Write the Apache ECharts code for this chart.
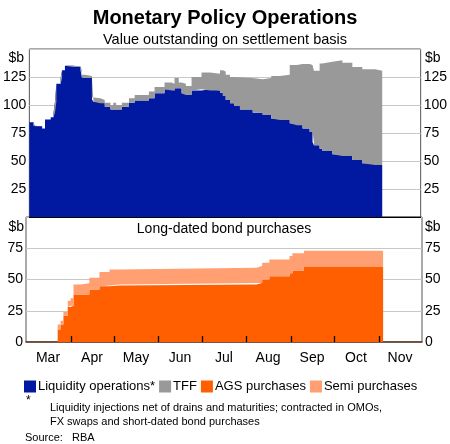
<!DOCTYPE html>
<html>
<head>
<meta charset="utf-8">
<script src="https://cdn.jsdelivr.net/npm/echarts@6/dist/echarts.min.js"></script>
<style>
  html, body { margin: 0; padding: 0; background: #fff; }
  #chart { width: 450px; height: 444px; }
</style>
</head>
<body>
<div id="chart"></div>
<script>
// top panel: value outstanding, $b
const topDates = ['2020-03-01', '2020-03-04', '2020-03-05', '2020-03-10', '2020-03-12', '2020-03-16',
  '2020-03-18', '2020-03-19', '2020-03-20', '2020-03-23', '2020-03-24', '2020-03-26', '2020-04-01',
  '2020-04-06', '2020-04-07', '2020-04-09', '2020-04-14', '2020-04-15', '2020-04-20', '2020-04-23',
  '2020-04-27', '2020-04-29', '2020-05-01', '2020-05-05', '2020-05-10', '2020-05-14', '2020-05-24',
  '2020-05-28', '2020-06-04', '2020-06-09', '2020-06-11', '2020-06-14', '2020-06-16', '2020-06-19',
  '2020-06-23', '2020-06-30', '2020-07-06', '2020-07-13', '2020-07-15', '2020-07-17', '2020-07-20',
  '2020-07-23', '2020-07-27', '2020-08-05', '2020-08-12', '2020-08-18', '2020-08-24', '2020-08-31',
  '2020-09-05', '2020-09-09', '2020-09-14', '2020-09-16', '2020-09-17', '2020-09-21', '2020-09-23',
  '2020-09-30', '2020-10-07', '2020-10-14', '2020-10-21', '2020-10-30', '2020-11-04'];
const liquidity = [84.5, 81.5, 81, 79, 87, 89, 93, 103, 119, 124, 131, 135, 134,
  131, 124, 124, 105, 103, 101.5, 98.5, 96, 96, 96, 98.5, 102, 104, 106,
  110.5, 114, 113, 115, 115, 110.5, 109, 113, 114, 113, 111, 108, 104.5, 101.5,
  99, 96, 93, 91, 88, 86.6, 83.6, 82, 79, 76, 67, 64, 61, 59,
  56, 54.5, 51, 48, 46.5, 46.5];
const tff = [0, 0, 0, 0, 0, 0, 0, 0, 0, 0, 0, 0, 0.5,
  2, 3, 2, 2, 3, 3, 3.5, 4, 6, 4, 3.5, 4, 5, 6,
  5.5, 6, 6, 9, 5, 8.5, 8, 12, 15, 15, 20, 22, 22.5, 23.5,
  25.7, 28, 30, 33, 38, 40.4, 52.1, 54.6, 57.6, 59.7, 67, 66.6, 76, 79.7,
  84, 83.3, 83, 84, 84.1, 84.1];

// bottom panel: long-dated bond purchases, $b
const bondDates = ['2020-03-01', '2020-03-23', '2020-03-25', '2020-03-27', '2020-03-30', '2020-04-01',
  '2020-04-03', '2020-04-08', '2020-04-14', '2020-04-21', '2020-04-28', '2020-05-05', '2020-08-08',
  '2020-08-12', '2020-08-17', '2020-08-31', '2020-09-02', '2020-09-10', '2020-11-04'];
const ags = [0, 10, 14, 21, 28, 29, 38, 38, 42, 44.6, 45.2, 46, 47.3, 50, 52.7, 55, 57.3, 60, 60];
const semi = [0, 4, 3, 3, 5, 6, 8, 9, 9.5, 11.4, 12.8, 13.4, 13.5, 13.5, 13.3, 13.8, 13.7, 13, 13];

const months = ['Mar', 'Apr', 'May', 'Jun', 'Jul', 'Aug', 'Sep', 'Oct', 'Nov'];
// month boundaries where the bottom axis has tick marks
const tickDates = ['2020-04-01', '2020-05-01', '2020-06-01', '2020-07-01', '2020-08-01',
  '2020-09-01', '2020-10-01', '2020-11-01'];

const FONT = '"Liberation Sans", Arial, sans-serif';
const xMin = new Date(2020, 2, 1).getTime();
const xMax = new Date(2020, 11, 1).getTime();

const myChart = echarts.init(document.getElementById('chart'), null, { renderer: 'canvas' });

function pairs(dates, vals) {
  return dates.map((d, i) => [d, vals[i]]);
}

function areaSeries(name, xi, yi, stack, color, data) {
  return {
    name: name,
    type: 'line',
    xAxisIndex: xi,
    yAxisIndex: yi,
    stack: stack,
    step: 'end',
    symbol: 'none',
    silent: true,
    z: 2,
    color: color,
    lineStyle: { width: 0 },
    areaStyle: { color: color, opacity: 1 },
    data: data,
  };
}

const yLabel = { color: '#000', fontSize: 14, margin: 3, fontFamily: FONT };

const option = {
  animation: false,
  textStyle: { fontFamily: FONT },
  grid: [
    { left: 26, width: 396, top: 49, height: 168, show: true, borderColor: '#555', borderWidth: 1 },
    { left: 26, width: 396, top: 217, height: 125, show: true, borderColor: '#555', borderWidth: 1 },
  ],
  xAxis: [
    {
      type: 'time', gridIndex: 0, min: xMin, max: xMax, position: 'bottom',
      axisLine: { show: true, lineStyle: { color: '#000', width: 1 } },
      axisTick: { show: false }, axisLabel: { show: false }, splitLine: { show: false },
    },
    {
      type: 'time', gridIndex: 1, min: xMin, max: xMax, position: 'bottom',
      axisLine: { show: true, lineStyle: { color: '#5a3320', width: 1.5 } },
      axisTick: { show: false }, axisLabel: { show: false }, splitLine: { show: false },
    },
    {
      type: 'category', gridIndex: 1, data: months, boundaryGap: true, position: 'bottom', offset: 0,
      axisLine: { show: false },
      axisTick: { show: false },
      axisLabel: { color: '#000', fontSize: 14, margin: 9, interval: 0, fontFamily: FONT },
      splitLine: { show: false },
    },
  ],
  yAxis: [
    {
      type: 'value', gridIndex: 0, min: 0, max: 150, interval: 25, position: 'left',
      axisLine: { show: false }, axisTick: { show: false },
      splitLine: { lineStyle: { color: '#c8c8c8' } },
      axisLabel: Object.assign({ formatter: v => (v === 0 || v === 150 ? '' : v) }, yLabel),
    },
    {
      type: 'value', gridIndex: 0, min: 0, max: 150, interval: 25, position: 'right',
      axisLine: { show: false }, axisTick: { show: false }, splitLine: { show: false },
      axisLabel: Object.assign({ formatter: v => (v === 0 || v === 150 ? '' : v) }, yLabel),
    },
    {
      type: 'value', gridIndex: 1, min: 0, max: 100, interval: 25, position: 'left',
      axisLine: { show: false }, axisTick: { show: false },
      splitLine: { lineStyle: { color: '#c8c8c8' } },
      axisLabel: Object.assign({ formatter: v => (v === 100 ? '' : v) }, yLabel),
    },
    {
      type: 'value', gridIndex: 1, min: 0, max: 100, interval: 25, position: 'right',
      axisLine: { show: false }, axisTick: { show: false }, splitLine: { show: false },
      axisLabel: Object.assign({ formatter: v => (v === 100 ? '' : v) }, yLabel),
    },
  ],
  legend: {
    left: 24,
    top: 380,
    padding: 0,
    icon: 'rect',
    itemWidth: 12,
    itemHeight: 12,
    itemGap: 4,
    selectedMode: false,
    textStyle: { color: '#000', fontSize: 13, fontFamily: FONT, padding: [0, 0, 0, -3] },
    data: ['Liquidity operations*', 'TFF', 'AGS purchases', 'Semi purchases'],
  },
  graphic: [
    { type: 'text', left: 'center', top: 8, style: { text: 'Monetary Policy Operations', font: 'bold 20px ' + FONT, fill: '#000' } },
    { type: 'text', left: 'center', top: 32, style: { text: 'Value outstanding on settlement basis', font: '14.5px ' + FONT, fill: '#000' } },
    { type: 'text', x: 24, y: 58, style: { text: '$b', font: '14px ' + FONT, fill: '#000', align: 'right', verticalAlign: 'middle' } },
    { type: 'text', x: 425, y: 58, style: { text: '$b', font: '14px ' + FONT, fill: '#000', align: 'left', verticalAlign: 'middle' } },
    { type: 'text', x: 24, y: 227, style: { text: '$b', font: '14px ' + FONT, fill: '#000', align: 'right', verticalAlign: 'middle' } },
    { type: 'text', x: 425, y: 227, style: { text: '$b', font: '14px ' + FONT, fill: '#000', align: 'left', verticalAlign: 'middle' } },
    { type: 'text', x: 224, y: 229, style: { text: 'Long-dated bond purchases', font: '14px ' + FONT, fill: '#000', align: 'center', verticalAlign: 'middle' } },
    { type: 'text', x: 26, y: 401, style: { text: '*', font: '12px ' + FONT, fill: '#000', verticalAlign: 'middle' } },
    { type: 'text', x: 50, y: 408, style: { text: 'Liquidity injections net of drains and maturities; contracted in OMOs,', font: '11px ' + FONT, fill: '#000', verticalAlign: 'middle' } },
    { type: 'text', x: 50, y: 422, style: { text: 'FX swaps and short-dated bond purchases', font: '11px ' + FONT, fill: '#000', verticalAlign: 'middle' } },
    { type: 'text', x: 25, y: 438, style: { text: 'Source:   RBA', font: '11px ' + FONT, fill: '#000', verticalAlign: 'middle' } },
  ],
  series: [
    areaSeries('Liquidity operations*', 0, 0, 'top', '#0019a0', pairs(topDates, liquidity)),
    areaSeries('TFF', 0, 0, 'top', '#999999', pairs(topDates, tff)),
    areaSeries('AGS purchases', 1, 2, 'bond', '#ff5f00', pairs(bondDates, ags)),
    areaSeries('Semi purchases', 1, 2, 'bond', '#ff9f72', pairs(bondDates, semi)),
    {
      // inside tick marks at each month start, on their own layer above the areas
      name: 'ticks',
      type: 'custom',
      xAxisIndex: 1,
      yAxisIndex: 2,
      z: 10,
      zlevel: 1,
      silent: true,
      clip: false,
      data: tickDates.map(d => [new Date(d + 'T00:00:00').getTime(), 0]),
      renderItem: (params, api) => {
        const p = api.coord([api.value(0), api.value(1)]);
        const x = Math.round(p[0]) + 0.5;
        return {
          type: 'line',
          shape: { x1: x, y1: p[1] - 6, x2: x, y2: p[1] },
          style: { stroke: '#000', lineWidth: 1.3 },
        };
      },
    },
  ],
};

myChart.setOption(option);
window.addEventListener('resize', () => myChart.resize());
</script>
</body>
</html>
